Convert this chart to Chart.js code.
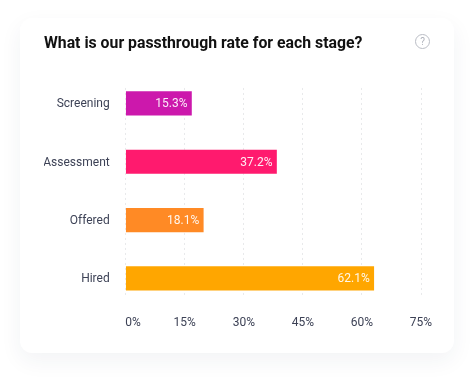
<!DOCTYPE html>
<html>
<head>
<meta charset="utf-8">
<script src="https://cdn.jsdelivr.net/npm/chart.js@4"></script>
<style>
  html, body { margin: 0; background: #fff; }
  body { position: relative; width: 474px; height: 383px; overflow: hidden; font-family: Roboto, sans-serif; }
  .card { position: absolute; left: 20px; top: 18px; width: 434px; height: 335px; background: #fff; border-radius: 12px; box-shadow: 0 8px 22px rgba(40, 45, 80, 0.06); }
  .wrap { position: absolute; left: 44px; top: 0; width: 420px; height: 383px; }
  .help { position: absolute; left: 415px; top: 34px; width: 13px; height: 13px; border: 1.3px solid #b9bcc4; border-radius: 50%; color: #aeb1ba; font-size: 10px; line-height: 13px; text-align: center; }
</style>
</head>
<body>
<div class="card"></div>
<div class="wrap"><canvas id="myChart"></canvas></div>
<div class="help">?</div>
<script>
const stages = ["Screening", "Assessment", "Offered", "Hired"];
// printed rates
const rates = [15.3, 37.2, 18.1, 62.1];
// bar ends measured on the picture, they run a bit past the printed rate
const barLengths = [16.7, 38.3, 19.7, 63.0];
const barColors = ["#cc18ac", "#ff1a6e", "#ff8a25", "#ffa600"];
const xTicks = [0, 15, 30, 45, 60, 75];

// white rate text inside the end of each bar
const barLabels = {
	id: "barLabels",
	afterDatasetsDraw(chart) {
		const c = chart.ctx;
		c.save();
		c.font = "12px Roboto";
		c.fillStyle = "rgba(255, 255, 255, 0.92)";
		c.textAlign = "right";
		c.textBaseline = "middle";
		chart.getDatasetMeta(0).data.forEach((bar, i) => {
			c.fillText(rates[i].toFixed(1) + "%", bar.x - 4, bar.y + 1);
		});
		c.restore();
	},
};

const ctx = document.getElementById("myChart");
const myChart = new Chart(ctx, {
	type: "bar",
	data: {
		datasets: [
			{
				data: barLengths.map((v, i) => ({ x: v, y: i })),
				backgroundColor: barColors,
				barThickness: 23.5,
			},
		],
	},
	plugins: [barLabels],
	options: {
		indexAxis: "y",
		responsive: true,
		maintainAspectRatio: false,
		animation: false,
		layout: { padding: { right: 43 } },
		plugins: {
			legend: false,
			tooltip: { enabled: false },
			title: {
				display: true,
				text: "What is our passthrough rate for each stage?",
				align: "start",
				color: "#111111",
				font: { family: "Roboto", size: 15.8, weight: "700" },
				padding: { top: 35, bottom: 34 },
			},
		},
		scales: {
			x: {
				type: "linear",
				min: 0,
				max: 75,
				afterBuildTicks(axis) {
					axis.ticks = xTicks.map((v) => ({ value: v }));
				},
				afterFit(axis) {
					axis.height = 88;
				},
				border: { display: false, dash: [2, 3] },
				grid: { color: "#e8e9eb", tickLength: 0 },
				ticks: {
					color: "#3d4256",
					font: { family: "Roboto", size: 12 },
					padding: 21,
					maxRotation: 0,
					// the first label starts at the axis instead of centring on it
					callback: (v) => (v === 0 ? "     0%" : v + "%"),
				},
			},
			y: {
				type: "linear",
				offset: false,
				reverse: true,
				min: -0.265,
				max: 3.285,
				afterFit(axis) {
					axis.width = 81.7;
				},
				border: { display: false },
				grid: { display: false, offset: false },
				ticks: {
					stepSize: 1,
					color: "#3d4256",
					font: { family: "Roboto", size: 12 },
					padding: 8,
					labelOffset: 1,
					autoSkip: false,
					callback: (v) => stages[v],
				},
			},
		},
	},
});
</script>
</body>
</html>
